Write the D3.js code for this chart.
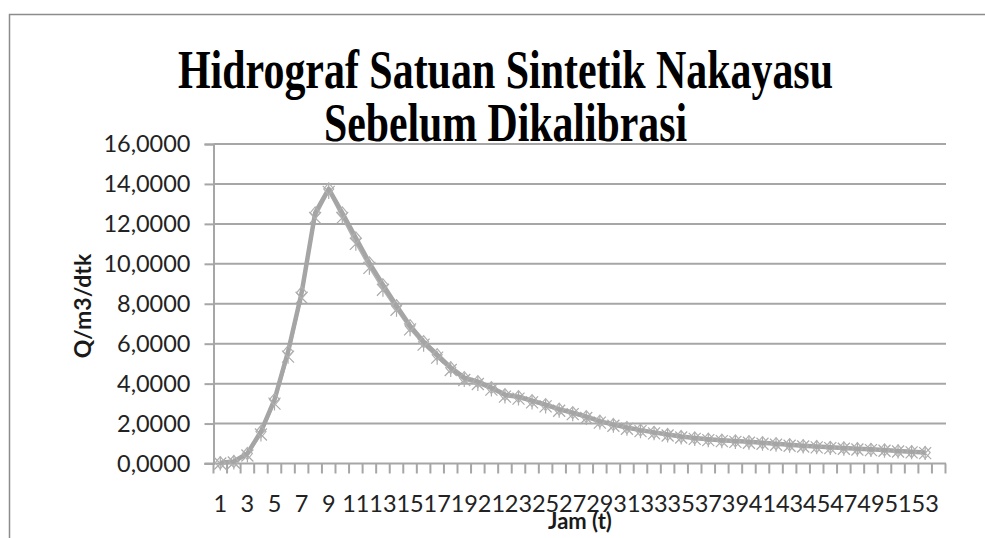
<!DOCTYPE html>
<html>
<head>
<meta charset="utf-8">
<script src="https://cdn.jsdelivr.net/npm/d3@7"></script>
<style>
  body { margin: 0; background: #fff; }
  svg { display: block; }
</style>
</head>
<body>
<div id="chart"></div>
<script>
// data (jam ke-1 .. 53, category 54 is empty)
let jam = d3.range(1, 55);
let yTicks = [0, 2, 4, 6, 8, 10, 12, 14, 16];
let qUtama = [0.04, 0.1, 0.5, 1.6, 3.2, 5.6, 8.55, 12.55, 13.75, 12.55, 11.3, 10.05, 8.95, 7.9, 6.9, 6.1, 5.45, 4.8, 4.3, 4.1,
  3.8, 3.45, 3.35, 3.15, 2.95, 2.72, 2.55, 2.35, 2.12, 1.95, 1.8, 1.67, 1.56, 1.45, 1.35, 1.28, 1.22, 1.17, 1.13, 1.09,
  1.04, 0.99, 0.94, 0.89, 0.85, 0.81, 0.78, 0.74, 0.71, 0.68, 0.63, 0.59, 0.55];
let qKedua = [0.0, 0.05, 0.4, 1.45, 3.0, 5.35, 8.3, 12.3, 13.6, 12.3, 11.0, 9.8, 8.7, 7.7, 6.72, 5.95, 5.3, 4.68, 4.18, 3.98,
  3.7, 3.35, 3.25, 3.06, 2.86, 2.64, 2.47, 2.28, 2.05, 1.89, 1.74, 1.62, 1.51, 1.4, 1.3, 1.23, 1.17, 1.12, 1.08, 1.04,
  0.99, 0.94, 0.89, 0.85, 0.81, 0.77, 0.74, 0.7, 0.67, 0.64, 0.6, 0.56, 0.52];

let svgWidth = 985;
let svgHeight = 538;

let svg = d3.select("#chart")
  .append("svg")
  .attr("width", svgWidth)
  .attr("height", svgHeight);

// frame of the chart area (only top and left show)
svg.append("path")
  .attr("d", "M9.5,538 V14.5 H985")
  .attr("fill", "none")
  .attr("stroke", "#8c8c8c")
  .attr("stroke-width", 1.5);

// scales
let x = d3.scaleBand()
  .domain(jam)
  .range([213.5, 945.5]);
let y = d3.scaleLinear()
  .domain([0, 16])
  .range([463.5, 144]);

let gridColor = "#a6a6a6";
let fmt = d => d3.format(".4f")(d).replace(".", ",");

// horizontal gridlines + y axis
let yAxis = svg.append("g")
  .attr("transform", "translate(213.5,0)")
  .call(d3.axisLeft(y).tickValues(yTicks).tickFormat(fmt).tickSize(9).tickPadding(14));
yAxis.select(".domain").attr("stroke", gridColor).attr("stroke-width", 2);
yAxis.selectAll(".tick line").attr("stroke", gridColor).attr("stroke-width", 2);
yAxis.selectAll(".tick text")
  .attr("font-family", "Lato, sans-serif")
  .attr("font-size", 23.5)
  .attr("fill", "#222");

svg.append("g")
  .selectAll("line")
  .data(yTicks.filter(d => d > 0))
  .enter()
  .append("line")
  .attr("x1", 213.5)
  .attr("x2", 946)
  .attr("y1", d => y(d))
  .attr("y2", d => y(d))
  .attr("stroke", gridColor)
  .attr("stroke-width", 2);

// x axis with tick marks between categories
let xAxis = svg.append("g")
  .attr("transform", `translate(0, ${y(0)})`);
xAxis.append("line")
  .attr("x1", 204.5)
  .attr("x2", 946)
  .attr("stroke", gridColor)
  .attr("stroke-width", 2);
xAxis.selectAll(".tk")
  .data(d3.range(0, jam.length + 1))
  .enter()
  .append("line")
  .attr("class", "tk")
  .attr("x1", i => 213.5 + i * x.step())
  .attr("x2", i => 213.5 + i * x.step())
  .attr("y1", 0)
  .attr("y2", 10)
  .attr("stroke", gridColor)
  .attr("stroke-width", 2);
xAxis.selectAll(".lbl")
  .data(jam.filter(d => d % 2 === 1))
  .enter()
  .append("text")
  .attr("class", "lbl")
  .attr("x", d => x(d) + x.bandwidth() / 2)
  .attr("y", 48)
  .attr("text-anchor", "middle")
  .attr("font-family", "Lato, sans-serif")
  .attr("font-size", 23.5)
  .attr("fill", "#222")
  .text(d => d);

// axis titles
svg.append("text")
  .attr("x", 580)
  .attr("y", 529)
  .attr("text-anchor", "middle")
  .attr("font-family", "Lato, sans-serif")
  .attr("font-weight", "bold")
  .attr("font-size", 22)
  .attr("fill", "#1a1a1a")
  .text("Jam (t)");

svg.append("text")
  .attr("transform", "translate(91,306) rotate(-90)")
  .attr("text-anchor", "middle")
  .attr("font-family", "Lato, sans-serif")
  .attr("font-weight", "bold")
  .attr("font-size", 23)
  .attr("fill", "#1a1a1a")
  .text("Q/m3/dtk");

// title
let titleLines = [
  { t: "Hidrograf Satuan Sintetik Nakayasu", y: 88, w: 655 },
  { t: "Sebelum Dikalibrasi", y: 141, w: 363 }
];
svg.append("g")
  .selectAll("text")
  .data(titleLines)
  .enter()
  .append("text")
  .attr("x", 505.5)
  .attr("y", d => d.y)
  .attr("text-anchor", "middle")
  .attr("font-family", "'Liberation Serif', 'Times New Roman', serif")
  .attr("font-weight", "bold")
  .attr("font-size", 54)
  .attr("textLength", d => d.w)
  .attr("lengthAdjust", "spacingAndGlyphs")
  .attr("fill", "#000")
  .text(d => d.t);

// series
let cx = (d, i) => x(jam[i]) + x.bandwidth() / 2;
let line = d3.line().x(cx).y(d => y(d));
let lineColor = "#a5a5a5";

let plot = svg.append("g");

// thin series with star markers
plot.append("path")
  .datum(qKedua)
  .attr("d", line)
  .attr("fill", "none")
  .attr("stroke", "#b3b3b3")
  .attr("stroke-width", 1.5);
plot.selectAll(".star")
  .data(qKedua)
  .enter()
  .append("path")
  .attr("class", "star")
  .attr("transform", (d, i) => `translate(${cx(d, i)},${y(d)})`)
  .attr("d", "M-6,-6L6,6M-6,6L6,-6M0,-7V7")
  .attr("fill", "none")
  .attr("stroke", "#ababab")
  .attr("stroke-width", 1.2);

// thick main series with diamond markers
plot.append("path")
  .datum(qUtama)
  .attr("d", line)
  .attr("fill", "none")
  .attr("stroke", lineColor)
  .attr("stroke-width", 4.5)
  .attr("stroke-linejoin", "round");
plot.selectAll(".dia")
  .data(qUtama)
  .enter()
  .append("path")
  .attr("class", "dia")
  .attr("transform", (d, i) => `translate(${cx(d, i)},${y(d)})`)
  .attr("d", "M0,-6L5,0L0,6L-5,0Z")
  .attr("fill", "none")
  .attr("stroke", "#b0b0b0")
  .attr("stroke-width", 1.2);
</script>
</body>
</html>
